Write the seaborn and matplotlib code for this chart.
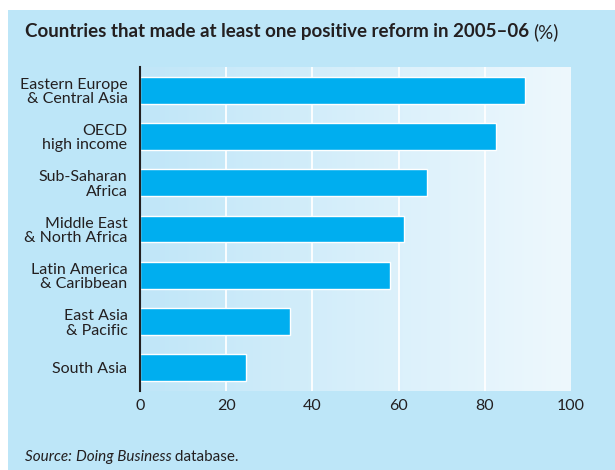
import numpy as np
import pandas as pd
import matplotlib.pyplot as plt
import seaborn as sns
from matplotlib.patches import Rectangle

regions = ["Eastern Europe\n& Central Asia", "OECD\nhigh income", "Sub-Saharan\nAfrica",
           "Middle East\n& North Africa", "Latin America\n& Caribbean", "East Asia\n& Pacific",
           "South Asia"]
share = [89.3, 82.6, 66.7, 61.2, 58.0, 34.7, 24.7]
ticks = [0, 20, 40, 60, 80, 100]

df = pd.DataFrame({"region": regions, "share": share})

sns.set_style("white")
plt.rcParams["font.family"] = ["Lato", "DejaVu Sans"]

W, H = 615, 470
fig = plt.figure(figsize=(W / 100, H / 100), dpi=100)
fig.patch.set_facecolor("white")
fig.patches.append(Rectangle((8 / W, 0), 1, (H - 10) / H, transform=fig.transFigure,
                             facecolor="#bde6f8", edgecolor="none", zorder=-10))

ax = fig.add_axes([140 / W, (H - 391) / H, (571 - 140) / W, (391 - 67) / H])

# gradient background
grad = np.linspace(0, 1, 256).reshape(1, -1)
cmap = sns.blend_palette(["#c0e6f8", "#eef8fd"], as_cmap=True)
ax.imshow(grad, extent=[0, 100, 6.5, -0.5], aspect="auto", cmap=cmap, zorder=0)

for t in ticks[1:-1]:
    ax.axvline(t, color="white", lw=1.3, zorder=1)

sns.barplot(data=df, x="share", y="region", color="#00aeef", saturation=1,
            width=0.58, ax=ax, zorder=2)

ax.set_xlim(0, 100)
ax.set_ylim(6.5, -0.5)
ax.set_xticks(ticks)
ax.set_yticks(range(len(regions)))
ax.set_yticklabels(regions, ha="right", multialignment="right", linespacing=1.05)
ax.set_xlabel("")
ax.set_ylabel("")
ax.tick_params(axis="both", length=0, labelsize=11.5, colors="#231f20")
ax.tick_params(axis="y", pad=9)
ax.tick_params(axis="x", pad=6)
for s in ["top", "right", "bottom"]:
    ax.spines[s].set_visible(False)
ax.spines["left"].set_color("#231f20")
ax.spines["left"].set_linewidth(1.5)
ax.spines["left"].set_zorder(5)

renderer = fig.canvas.get_renderer()


def text_run(x, y, parts, size):
    # place text pieces one after another
    for s, kw in parts:
        t = fig.text(x / W, 1 - y / H, s, fontsize=size, color="#231f20", va="center", **kw)
        x += t.get_window_extent(renderer).width


text_run(25, 32, [("Countries that made at least one positive reform in 2005\u201306 ", {"fontweight": "bold"}),
                  ("(%)", {})], 13.5)
text_run(25, 457, [("Source: ", {"style": "italic"}), ("Doing Business", {"style": "italic"}),
                   (" database.", {})], 11)

fig.savefig("out.png", dpi=100)
